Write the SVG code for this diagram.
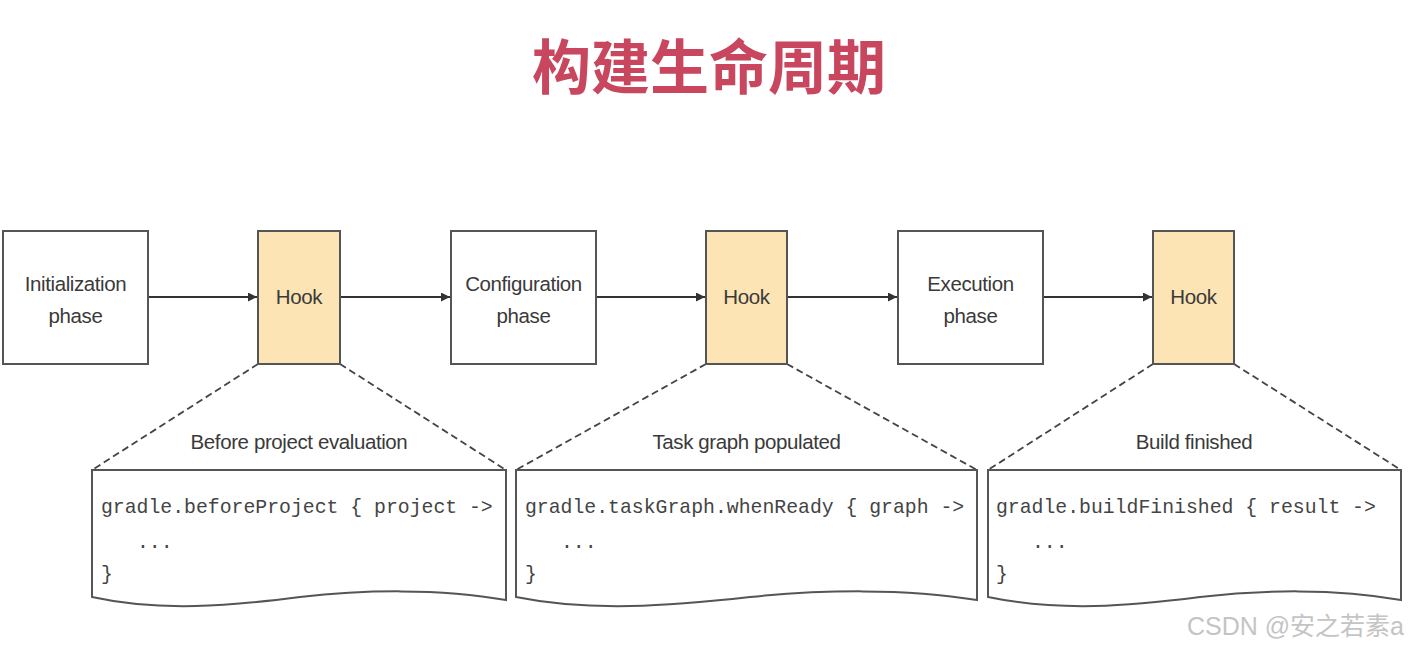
<svg xmlns="http://www.w3.org/2000/svg" width="1408" height="650" viewBox="0 0 1408 650">
<style>
.box{fill:#fff;stroke:#555;stroke-width:2}
.hook{fill:#fde4b4;stroke:#555;stroke-width:2}
.lbl{font-family:"Liberation Sans",Arial,sans-serif;font-size:20.5px;fill:#3a3a3a;text-anchor:middle;letter-spacing:-0.4px}
.code{font-family:"Liberation Mono","Courier New",monospace;font-size:19.8px;fill:#444}
.edge{stroke:#333;stroke-width:2;fill:none}
.dash{stroke:#444;stroke-width:1.8;fill:none;stroke-dasharray:7,4}
.doc{fill:#fff;stroke:#555;stroke-width:2}
</style>
<defs>
<marker id="ah" viewBox="0 0 10 10" refX="10" refY="5" markerWidth="11" markerHeight="9" orient="auto" markerUnits="userSpaceOnUse">
<path d="M0,0 L10,5 L0,10 z" fill="#333"/>
</marker>
</defs>
<rect width="1408" height="650" fill="#fff"/>
<text x="709" y="89" text-anchor="middle" font-family="'Noto Sans CJK SC',sans-serif" font-weight="bold" font-size="59" fill="#c8475f">构建生命周期</text>

<g id="connectors">
<line class="edge" x1="149" y1="297" x2="257" y2="297" marker-end="url(#ah)"/>
<line class="edge" x1="341" y1="297" x2="450" y2="297" marker-end="url(#ah)"/>
<line class="edge" x1="597" y1="297" x2="705" y2="297" marker-end="url(#ah)"/>
<line class="edge" x1="788" y1="297" x2="897" y2="297" marker-end="url(#ah)"/>
<line class="edge" x1="1044" y1="297" x2="1152" y2="297" marker-end="url(#ah)"/>
<line class="dash" x1="258" y1="364" x2="92" y2="470"/>
<line class="dash" x1="340" y1="364" x2="506" y2="470"/>
<line class="dash" x1="706" y1="364" x2="516" y2="470"/>
<line class="dash" x1="787" y1="364" x2="977" y2="470"/>
<line class="dash" x1="1153" y1="364" x2="988" y2="470"/>
<line class="dash" x1="1234" y1="364" x2="1401" y2="470"/>
</g>

<g id="init">
<rect class="box" x="3" y="231" width="145" height="133"/>
<text class="lbl" x="75.5" y="291">Initialization</text>
<text class="lbl" x="75.5" y="323">phase</text>
</g>
<g id="hook1">
<rect class="hook" x="258" y="231" width="82" height="133"/>
<text class="lbl" x="299" y="304">Hook</text>
</g>
<g id="config">
<rect class="box" x="451" y="231" width="145" height="133"/>
<text class="lbl" x="523.5" y="291">Configuration</text>
<text class="lbl" x="523.5" y="323">phase</text>
</g>
<g id="hook2">
<rect class="hook" x="706" y="231" width="81" height="133"/>
<text class="lbl" x="746.5" y="304">Hook</text>
</g>
<g id="exec">
<rect class="box" x="898" y="231" width="145" height="133"/>
<text class="lbl" x="970.5" y="291">Execution</text>
<text class="lbl" x="970.5" y="323">phase</text>
</g>
<g id="hook3">
<rect class="hook" x="1153" y="231" width="81" height="133"/>
<text class="lbl" x="1193.5" y="304">Hook</text>
</g>

<g id="doc1">
<text class="lbl" x="299" y="449">Before project evaluation</text>
<path class="doc" d="M92,470 L506,470 L506,600 C440,588 360,590 300,597 C230,606 160,612 92,597 Z"/>
<text class="code" x="101" y="513">gradle.beforeProject { project -&gt;</text>
<text class="code" x="137" y="548">...</text>
<text class="code" x="101" y="580">}</text>
</g>
<g id="doc2">
<text class="lbl" x="746.5" y="449">Task graph populated</text>
<path class="doc" d="M516,470 L977,470 L977,600 C905,588 820,590 750,597 C670,606 590,612 516,597 Z"/>
<text class="code" x="525" y="513">gradle.taskGraph.whenReady { graph -&gt;</text>
<text class="code" x="561" y="548">...</text>
<text class="code" x="525" y="580">}</text>
</g>
<g id="doc3">
<text class="lbl" x="1194" y="449">Build finished</text>
<path class="doc" d="M988,470 L1401,470 L1401,600 C1335,588 1260,590 1200,597 C1130,606 1060,612 988,597 Z"/>
<text class="code" x="996" y="513">gradle.buildFinished { result -&gt;</text>
<text class="code" x="1032" y="548">...</text>
<text class="code" x="996" y="580">}</text>
</g>

<text x="1404" y="635" text-anchor="end" font-family="'Liberation Sans','Noto Sans CJK SC',sans-serif" font-size="25" fill="#c4c4c4">CSDN @安之若素a</text>
</svg>
